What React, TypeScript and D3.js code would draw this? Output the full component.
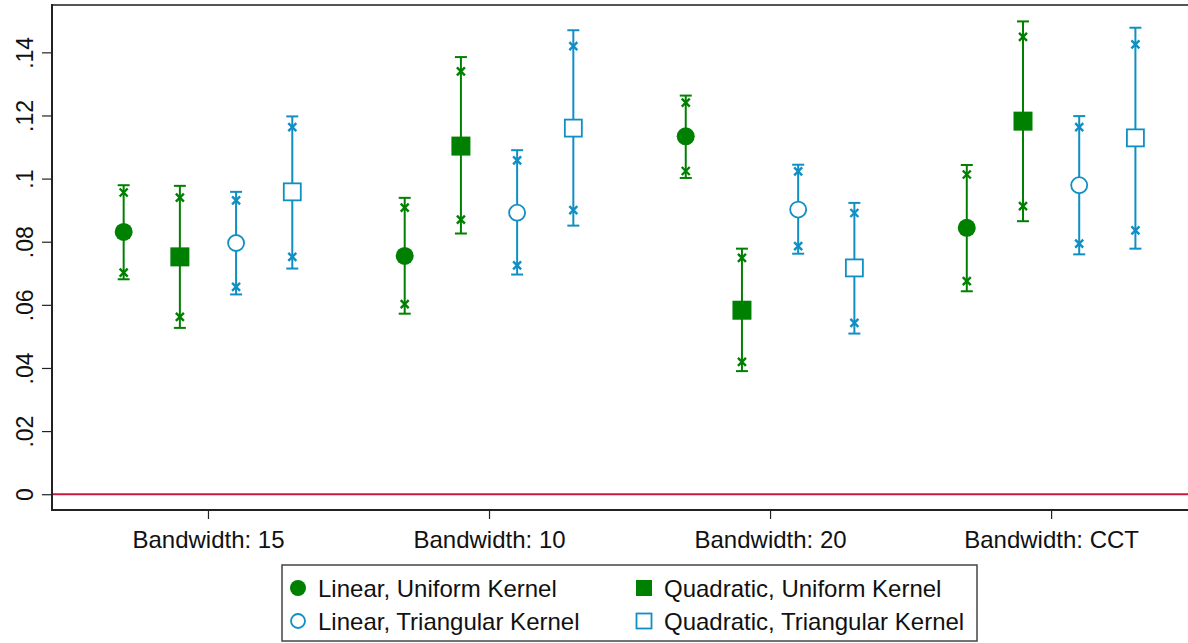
import React, { useEffect, useRef } from 'react';
import * as d3 from 'd3';

// categories on the x axis
const categories = ['Bandwidth: 15', 'Bandwidth: 10', 'Bandwidth: 20', 'Bandwidth: CCT'];

// y axis ticks
const yTicks = [0, 0.02, 0.04, 0.06, 0.08, 0.1, 0.12, 0.14];
const yTickLabels = ['0', '.02', '.04', '.06', '.08', '.1', '.12', '.14'];

// Linear, Uniform Kernel
const luEst = [0.0831, 0.0755, 0.1134, 0.0844];
const luHi95 = [0.0979, 0.0939, 0.1263, 0.1043];
const luLo95 = [0.0681, 0.0572, 0.1002, 0.0643];
const luHi90 = [0.0956, 0.0908, 0.1241, 0.1013];
const luLo90 = [0.0702, 0.0602, 0.1024, 0.0675];

// Quadratic, Uniform Kernel
const quEst = [0.0752, 0.1103, 0.0583, 0.1182];
const quHi95 = [0.0977, 0.1385, 0.0778, 0.1498];
const quLo95 = [0.0527, 0.0826, 0.039, 0.0865];
const quHi90 = [0.094, 0.134, 0.0749, 0.1449];
const quLo90 = [0.0562, 0.087, 0.0419, 0.0913];

// Linear, Triangular Kernel
const ltEst = [0.0796, 0.0892, 0.0902, 0.0979];
const ltHi95 = [0.0958, 0.109, 0.1044, 0.1198];
const ltLo95 = [0.0633, 0.0696, 0.0762, 0.076];
const ltHi90 = [0.0931, 0.1058, 0.1023, 0.1163];
const ltLo90 = [0.0657, 0.0725, 0.0786, 0.0794];

// Quadratic, Triangular Kernel
const qtEst = [0.0958, 0.116, 0.0717, 0.1129];
const qtHi95 = [0.1197, 0.147, 0.0923, 0.1478];
const qtLo95 = [0.0715, 0.0851, 0.0509, 0.0778];
const qtHi90 = [0.1163, 0.142, 0.0891, 0.1425];
const qtLo90 = [0.0752, 0.09, 0.0543, 0.0836];

const GREEN = '#008000';
const BLUE = '#0f8fc4';

const series = [
  { name: 'Linear, Uniform Kernel', est: luEst, hi95: luHi95, lo95: luLo95, hi90: luHi90, lo90: luLo90, color: GREEN, shape: 'circle', filled: true, offset: -0.3 },
  { name: 'Quadratic, Uniform Kernel', est: quEst, hi95: quHi95, lo95: quLo95, hi90: quHi90, lo90: quLo90, color: GREEN, shape: 'square', filled: true, offset: -0.1 },
  { name: 'Linear, Triangular Kernel', est: ltEst, hi95: ltHi95, lo95: ltLo95, hi90: ltHi90, lo90: ltLo90, color: BLUE, shape: 'circle', filled: false, offset: 0.1 },
  { name: 'Quadratic, Triangular Kernel', est: qtEst, hi95: qtHi95, lo95: qtLo95, hi90: qtHi90, lo90: qtLo90, color: BLUE, shape: 'square', filled: false, offset: 0.3 },
];

const W = 1188;
const H = 643;
const FONT = '"Liberation Sans", Arial, sans-serif';

const App = () => {
  const ref = useRef<SVGSVGElement>(null);

  useEffect(() => {
    const svg = d3.select(ref.current);
    svg.selectAll('*').remove();

    const left = 52, right = 1186, top = 5, bottom = 510;
    const x = d3.scaleLinear().domain([0.445, 4.48]).range([left, right]);
    const y = d3.scaleLinear().domain([-0.005, 0.155]).range([bottom, top]);

    // zero line
    svg.append('line')
      .attr('x1', left).attr('x2', W)
      .attr('y1', y(0)).attr('y2', y(0))
      .attr('stroke', '#c8193f').attr('stroke-width', 2);

    // error bars and markers
    series.forEach(s => {
      const g = svg.append('g');
      categories.forEach((c, i) => {
        const cx = x(i + 1 + s.offset);
        g.append('line')
          .attr('x1', cx).attr('x2', cx)
          .attr('y1', y(s.lo95[i])).attr('y2', y(s.hi95[i]))
          .attr('stroke', s.color).attr('stroke-width', 2);
        [s.lo95[i], s.hi95[i]].forEach(v => {
          g.append('line')
            .attr('x1', cx - 6).attr('x2', cx + 6)
            .attr('y1', y(v)).attr('y2', y(v))
            .attr('stroke', s.color).attr('stroke-width', 2);
        });
        [s.lo90[i], s.hi90[i]].forEach(v => {
          const yy = y(v);
          g.append('path')
            .attr('d', `M${cx - 4},${yy - 4}L${cx + 4},${yy + 4}M${cx - 4},${yy + 4}L${cx + 4},${yy - 4}`)
            .attr('stroke', s.color).attr('stroke-width', 2.4);
        });
        const cy = y(s.est[i]);
        if (s.shape === 'circle') {
          g.append('circle')
            .attr('cx', cx).attr('cy', cy)
            .attr('r', s.filled ? 9 : 8)
            .attr('fill', s.filled ? s.color : 'white')
            .attr('stroke', s.color).attr('stroke-width', s.filled ? 0 : 1.8);
        } else {
          const half = s.filled ? 9.5 : 8.5;
          g.append('rect')
            .attr('x', cx - half).attr('y', cy - half)
            .attr('width', half * 2).attr('height', half * 2)
            .attr('fill', s.filled ? s.color : 'white')
            .attr('stroke', s.color).attr('stroke-width', s.filled ? 0 : 1.8);
        }
      });
    });

    // frame: top border, left and bottom axes
    svg.append('line')
      .attr('x1', left).attr('x2', W).attr('y1', top).attr('y2', top)
      .attr('stroke', '#555').attr('stroke-width', 2);

    const yAxis = svg.append('g')
      .attr('transform', `translate(${left},0)`)
      .call(d3.axisLeft(y).tickValues(yTicks).tickSize(10).tickPadding(0)
        .tickFormat((d, i) => yTickLabels[i]));
    yAxis.select('.domain').remove();
    yAxis.selectAll('.tick line').attr('stroke', '#222').attr('stroke-width', 1.2);
    yAxis.selectAll('.tick text')
      .attr('x', null).attr('dy', null)
      .attr('transform', 'translate(-19,0) rotate(-90)')
      .attr('text-anchor', 'middle')
      .attr('font-family', FONT).attr('font-size', 23).attr('fill', '#111');

    const xAxis = svg.append('g')
      .attr('transform', `translate(0,${bottom})`)
      .call(d3.axisBottom(x).tickValues(categories.map((c, i) => i + 1)).tickSize(9).tickPadding(0)
        .tickFormat((d, i) => categories[i]));
    xAxis.select('.domain').remove();
    xAxis.selectAll('.tick line').attr('stroke', '#222').attr('stroke-width', 1.2);
    xAxis.selectAll('.tick text')
      .attr('y', 38).attr('dy', null)
      .attr('font-family', FONT).attr('font-size', 24).attr('fill', '#111');

    svg.append('line')
      .attr('x1', left).attr('x2', left).attr('y1', top - 1).attr('y2', bottom + 1)
      .attr('stroke', '#222').attr('stroke-width', 2);
    svg.append('line')
      .attr('x1', left).attr('x2', W).attr('y1', bottom).attr('y2', bottom)
      .attr('stroke', '#222').attr('stroke-width', 2);

    // legend
    const lg = svg.append('g');
    lg.append('rect')
      .attr('x', 282).attr('y', 565).attr('width', 695).attr('height', 76)
      .attr('fill', 'white').attr('stroke', '#444').attr('stroke-width', 1.5);
    const colX = [298, 644];
    const rowY = [588, 621];
    series.forEach((s, k) => {
      const col = k % 2;
      const row = Math.floor(k / 2);
      const mx = colX[col];
      const my = rowY[row];
      if (s.shape === 'circle') {
        lg.append('circle')
          .attr('cx', mx).attr('cy', my).attr('r', s.filled ? 8 : 7)
          .attr('fill', s.filled ? s.color : 'white')
          .attr('stroke', s.color).attr('stroke-width', s.filled ? 0 : 1.8);
      } else {
        const half = s.filled ? 8 : 7.5;
        lg.append('rect')
          .attr('x', mx - half).attr('y', my - half)
          .attr('width', half * 2).attr('height', half * 2)
          .attr('fill', s.filled ? s.color : 'white')
          .attr('stroke', s.color).attr('stroke-width', s.filled ? 0 : 1.8);
      }
      lg.append('text')
        .attr('x', mx + 20).attr('y', my + 9)
        .attr('font-family', FONT).attr('font-size', 24).attr('fill', '#111')
        .text(s.name);
    });
  }, []);

  return (
    <div style={{ position: 'absolute', left: 0, top: 0, width: W, height: H, background: 'white' }}>
      <svg ref={ref} width={W} height={H} style={{ display: 'block' }}></svg>
    </div>
  );
};

export default App;
